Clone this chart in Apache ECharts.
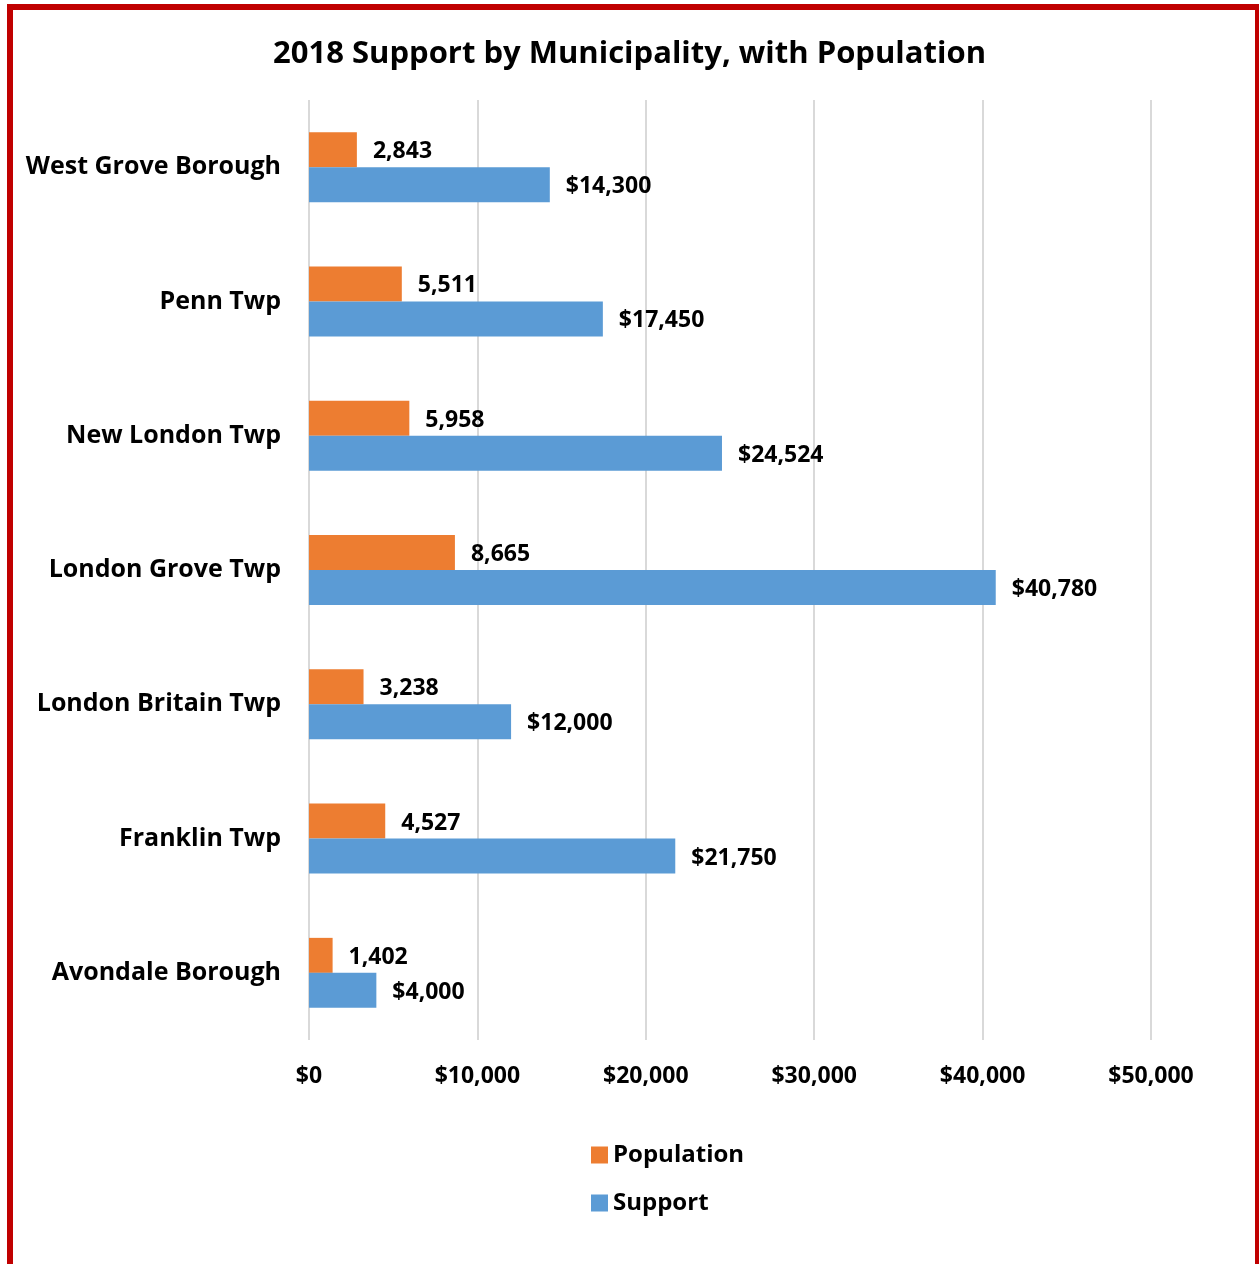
<!DOCTYPE html>
<html>
<head>
<meta charset="utf-8">
<script src="https://cdn.jsdelivr.net/npm/echarts@6/dist/echarts.min.js"></script>
<style>
html,body{margin:0;padding:0;background:#fff;}
#chart{width:1259px;height:1264px;}
</style>
</head>
<body>
<div id="chart"></div>
<script>
// Categories listed bottom-to-top (ECharts category y axis grows upward)
const categories = ["Avondale Borough","Franklin Twp","London Britain Twp","London Grove Twp","New London Twp","Penn Twp","West Grove Borough"];
const population = [1402, 4527, 3238, 8665, 5958, 5511, 2843];
const support = [4000, 21750, 12000, 40780, 24524, 17450, 14300];
const xTicks = [0, 10000, 20000, 30000, 40000, 50000];

const FONT = '"Open Sans"';
const fmt = v => v.toLocaleString('en-US');

const chart = echarts.init(document.getElementById('chart'), null, {renderer:'canvas'});
chart.setOption({
  backgroundColor: '#ffffff',
  animation: false,
  title: {
    text: '2018 Support by Municipality, with Population',
    left: 'center', top: 34,
    textStyle: {fontFamily: FONT, fontWeight: 'bold', fontSize: 31, color: '#000'}
  },
  graphic: [{
    type: 'rect', silent: true, z: 100,
    shape: {x: 10, y: 7, width: 1248, height: 1300},
    style: {fill: 'none', stroke: '#C00000', lineWidth: 6}
  }],
  legend: {
    orient: 'vertical', left: 586, top: 1138,
    itemWidth: 17, itemHeight: 17, itemGap: 24,
    icon: 'rect',
    data: ['Population', 'Support'],
    textStyle: {fontFamily: FONT, fontWeight: 'bold', fontSize: 24, color: '#000'}
  },
  grid: {left: 309, right: 108, top: 100, bottom: 224, containLabel: false},
  xAxis: {
    type: 'value', min: 0, max: 50000, interval: 10000,
    axisLine: {show: false}, axisTick: {show: false},
    splitLine: {lineStyle: {color: '#d9d9d9', width: 2}},
    axisLabel: {
      margin: 25, fontFamily: FONT, fontWeight: 'bold', fontSize: 23, color: '#000',
      formatter: v => '$' + fmt(v)
    }
  },
  yAxis: {
    type: 'category', data: categories,
    axisLine: {show: false}, axisTick: {show: false},
    axisLabel: {margin: 28, padding: [4, 0, 0, 0], fontFamily: FONT, fontWeight: 'bold', fontSize: 25, color: '#000'}
  },
  series: [
    {
      name: 'Population', type: 'bar', data: population,
      barWidth: 35, barGap: '0%',
      itemStyle: {color: '#ED7D31'},
      label: {show: true, position: 'right', distance: 16, offset: [0, 2], fontFamily: FONT, fontWeight: 'bold', fontSize: 23, color: '#000',
        formatter: p => fmt(p.value)}
    },
    {
      name: 'Support', type: 'bar', data: support,
      barWidth: 35, barGap: '0%',
      itemStyle: {color: '#5B9BD5'},
      label: {show: true, position: 'right', distance: 16, offset: [0, 2], fontFamily: FONT, fontWeight: 'bold', fontSize: 23, color: '#000',
        formatter: p => '$' + fmt(p.value)}
    }
  ]
});
</script>
</body>
</html>
